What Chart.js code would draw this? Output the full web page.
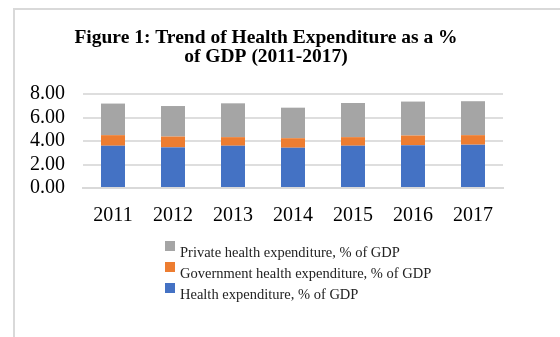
<!DOCTYPE html>
<html>
<head>
<meta charset="utf-8">
<script src="https://cdn.jsdelivr.net/npm/chart.js@4.4.1/dist/chart.umd.min.js"></script>
<style>
  body { margin: 0; background: #fff; }
  #wrap { position: relative; width: 560px; height: 337px; overflow: hidden; }
  #frame { position: absolute; left: 13px; top: 8px; width: 600px; height: 400px;
           border-left: 2px solid #d9d9d9; border-top: 2px solid #d9d9d9; }
  #chart { position: absolute; left: 0; top: 0; }
  #legend { position: absolute; left: 165px; top: 241px;
            font-family: 'Liberation Serif', 'Times New Roman', serif; font-size: 14.5px; color: #222; }
  .item { display: flex; align-items: flex-start; height: 21px; }
  .box { width: 10px; height: 10px; margin-right: 5px; flex: none; }
  .item span { line-height: 14px; margin-top: 4px; }
</style>
</head>
<body>
<div id="wrap">
  <div id="frame"></div>
  <canvas id="chart" width="560" height="337"></canvas>
  <div id="legend"></div>
</div>
<script>
const years = ['2011', '2012', '2013', '2014', '2015', '2016', '2017'];
const healthExp = [3.60, 3.46, 3.60, 3.43, 3.60, 3.64, 3.69];
const govExp = [0.90, 0.92, 0.73, 0.81, 0.73, 0.83, 0.81];
const privateExp = [2.69, 2.60, 2.88, 2.60, 2.91, 2.89, 2.89];
const yTicks = [0, 2, 4, 6, 8];

const serif = "'Liberation Serif', 'Times New Roman', serif";

const datasets = [
  { label: 'Health expenditure, % of GDP', data: healthExp, backgroundColor: '#4472c4' },
  { label: 'Government health expenditure, % of GDP', data: govExp, backgroundColor: '#ed7d31' },
  { label: 'Private health expenditure, % of GDP', data: privateExp, backgroundColor: '#a5a5a5' }
].map(d => ({ ...d, barPercentage: 0.4, categoryPercentage: 1 }));

const chart = new Chart(document.getElementById('chart').getContext('2d'), {
  type: 'bar',
  data: { labels: years, datasets: datasets },
  options: {
    responsive: false,
    animation: false,
    layout: { padding: { left: 29, right: 57, top: 29, bottom: 101 } },
    plugins: {
      legend: { display: false }, // drawn as html below, stacked vertically
      tooltip: { enabled: false },
      title: {
        display: true,
        text: ['Figure 1: Trend of Health Expenditure as a %', 'of GDP (2011-2017)'],
        color: '#000',
        font: { family: serif, size: 19.5, weight: 'bold', lineHeight: 0.95 },
        padding: { top: 0, bottom: 28 }
      }
    },
    scales: {
      x: {
        stacked: true,
        grid: { display: false },
        border: { color: '#d9d9d9', width: 2 },
        ticks: { color: '#000', font: { family: serif, size: 20 }, padding: 8 }
      },
      y: {
        stacked: true,
        min: yTicks[0],
        max: yTicks[yTicks.length - 1],
        afterFit: s => { s.width = 54; },
        afterBuildTicks: s => { s.ticks = yTicks.map(v => ({ value: v })); },
        grid: { color: '#dedede', lineWidth: 2, drawTicks: false },
        border: { display: false },
        ticks: { color: '#000', font: { family: serif, size: 20 }, padding: 18, autoSkip: false,
                 callback: v => v.toFixed(2) }
      }
    }
  }
});

// legend in reverse dataset order, one item per line
const legendEl = document.getElementById('legend');
chart.data.datasets.slice().reverse().forEach(ds => {
  const item = document.createElement('div');
  item.className = 'item';
  item.innerHTML = '<div class="box" style="background:' + ds.backgroundColor + '"></div><span>' + ds.label + '</span>';
  legendEl.appendChild(item);
});
</script>
</body>
</html>
